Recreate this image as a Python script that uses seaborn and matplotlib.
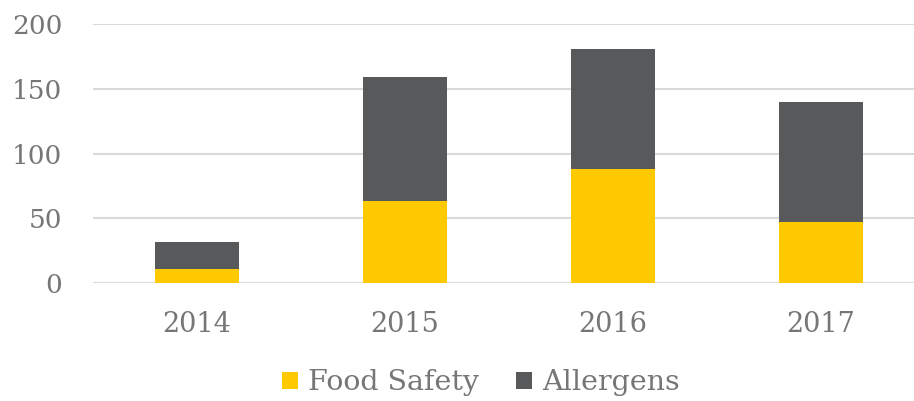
import matplotlib
matplotlib.use("Agg")
import matplotlib.pyplot as plt
import seaborn as sns
import pandas as pd
from matplotlib.patches import Patch

years = ["2014", "2015", "2016", "2017"]
food_safety = [11, 63, 88, 47]
allergens = [21, 96, 93, 93]
yticks = [0, 50, 100, 150, 200]

YELLOW = "#FFC900"
DARK = "#58595B"
TEXT = "#767676"

sns.set_theme(style="white")
plt.rcParams["font.family"] = ["DejaVu Serif"]

df = pd.DataFrame({"year": years, "food": food_safety, "allergens": allergens})
df["total"] = df["food"] + df["allergens"]

fig = plt.figure(figsize=(9.14, 4.01), dpi=100)
ax = fig.add_axes([93 / 914, (401 - 283) / 401, 1 - 93 / 914, (283 - 24) / 401])

sns.barplot(data=df, x="year", y="total", color=DARK, width=0.404, ax=ax,
            saturation=1, edgecolor="none", zorder=2)
sns.barplot(data=df, x="year", y="food", color=YELLOW, width=0.404, ax=ax,
            saturation=1, edgecolor="none", zorder=3)

ax.set_xlim(-0.5, (914 - 197) / 208)
ax.set_ylim(0, 200)
ax.set_yticks(yticks)
ax.set_yticklabels([str(v) for v in yticks])
ax.set_xlabel("")
ax.set_ylabel("")
ax.grid(axis="y", color="#D9D9D9", linewidth=1.5, zorder=0)
ax.set_axisbelow(True)
for s in ax.spines.values():
    s.set_visible(False)
ax.tick_params(axis="y", length=0, pad=22, labelsize=19, labelcolor=TEXT)
ax.tick_params(axis="x", length=0, pad=20, labelsize=19.5, labelcolor=TEXT)

handles = [Patch(facecolor=YELLOW, edgecolor="none", label="Food Safety"),
           Patch(facecolor=DARK, edgecolor="none", label="Allergens")]
leg = fig.legend(handles=handles, loc="center", bbox_to_anchor=(481 / 914, 1 - 383 / 401),
                 ncol=2, frameon=False, fontsize=20.5, handlelength=0.55, handleheight=0.55,
                 handletextpad=0.35, columnspacing=1.3)
for t in leg.get_texts():
    t.set_color(TEXT)

fig.savefig("out.png", dpi=100)
